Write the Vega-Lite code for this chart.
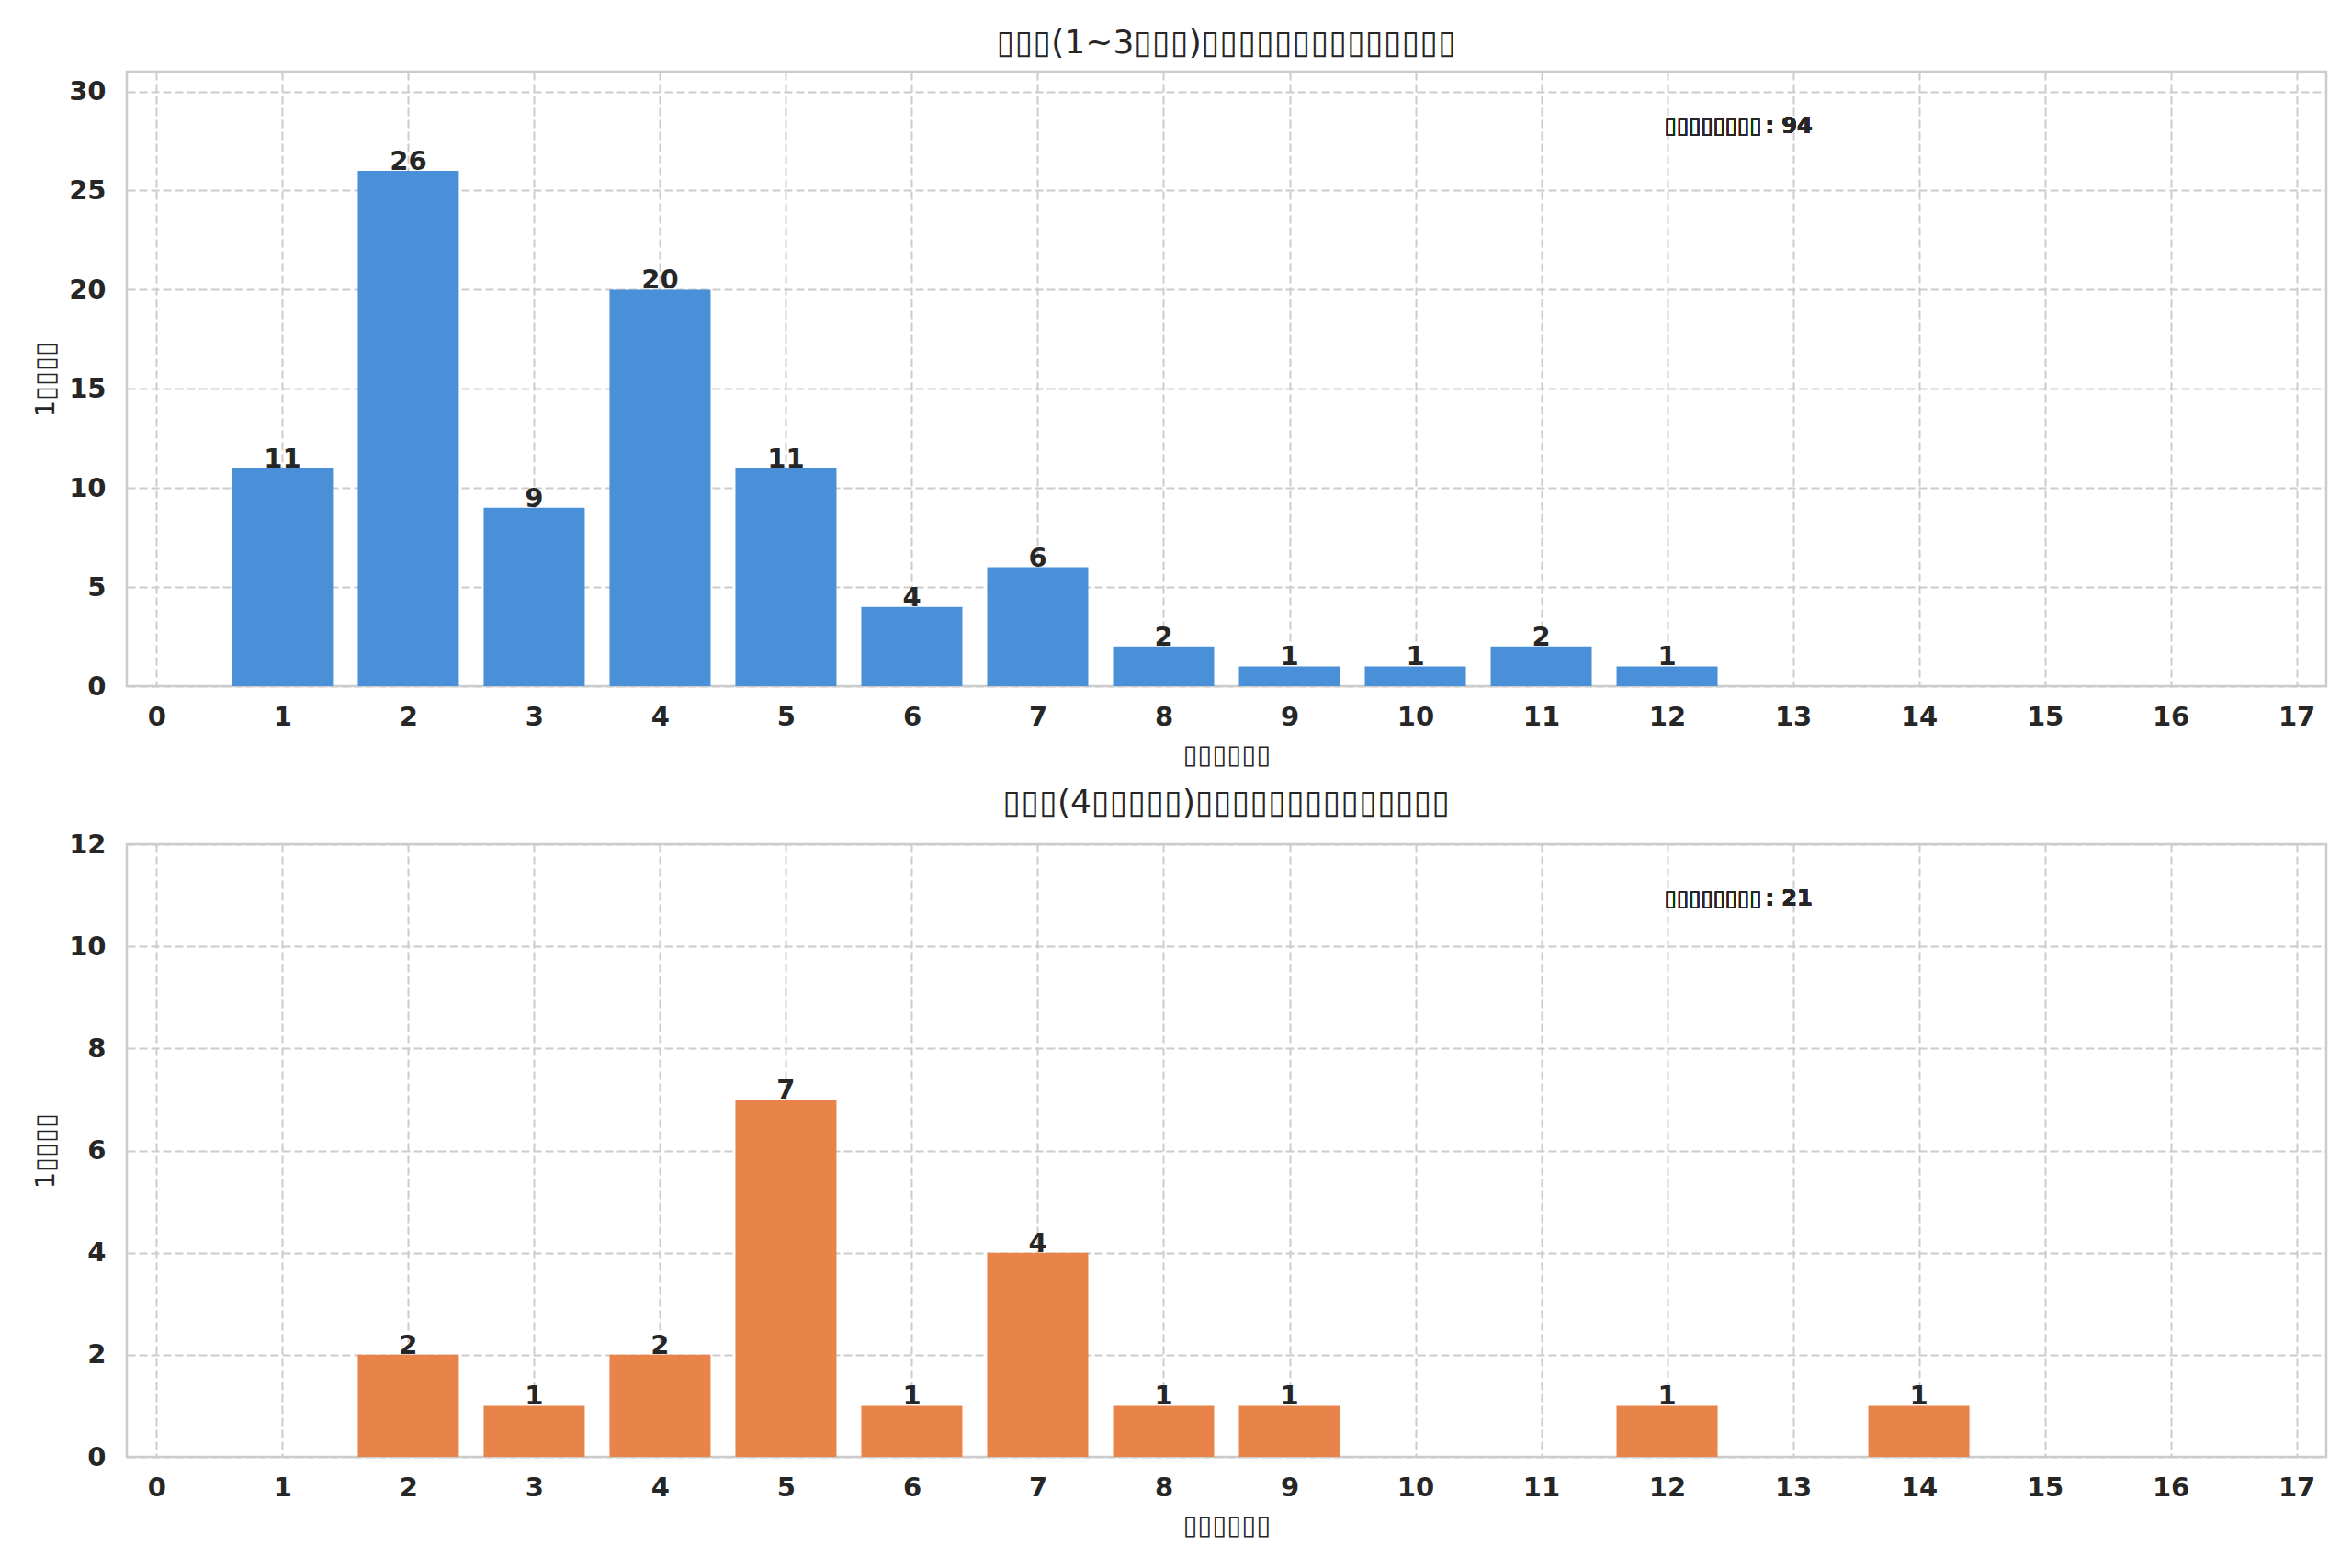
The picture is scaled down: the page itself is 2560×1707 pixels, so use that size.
{
  "$schema": "https://vega.github.io/schema/vega-lite/v6.json",
  "background": "white",
  "padding": {"left": 34, "top": 27, "right": 5, "bottom": 5},
  "spacing": 16,
  "datasets": {
    "lower": [
      {"count": 1, "n": 11}, {"count": 2, "n": 26}, {"count": 3, "n": 9},
      {"count": 4, "n": 20}, {"count": 5, "n": 11}, {"count": 6, "n": 4},
      {"count": 7, "n": 6}, {"count": 8, "n": 2}, {"count": 9, "n": 1},
      {"count": 10, "n": 1}, {"count": 11, "n": 2}, {"count": 12, "n": 1}
    ],
    "upper": [
      {"count": 2, "n": 2}, {"count": 3, "n": 1}, {"count": 4, "n": 2},
      {"count": 5, "n": 7}, {"count": 6, "n": 1}, {"count": 7, "n": 4},
      {"count": 8, "n": 1}, {"count": 9, "n": 1}, {"count": 12, "n": 1},
      {"count": 14, "n": 1}
    ]
  },
  "vconcat": [
    {
      "title": "▯▯▯(1~3▯▯▯)▯▯▯▯▯▯▯▯▯▯▯▯▯▯",
      "width": 2394,
      "height": 669,
      "data": {"name": "lower"},
      "layer": [
        {
          "mark": {"type": "bar", "width": 110, "color": "#4a90d9"},
          "encoding": {
            "x": {"field": "count", "type": "quantitative"},
            "y": {"field": "n", "type": "quantitative"}
          }
        },
        {
          "mark": {"type": "text", "baseline": "alphabetic", "dy": -1, "fontSize": 29, "fontWeight": "bold", "font": "DejaVu Sans", "color": "#262626"},
          "encoding": {
            "x": {"field": "count", "type": "quantitative"},
            "y": {"field": "n", "type": "quantitative"},
            "text": {"field": "n"}
          }
        },
        {
          "mark": {"type": "text", "align": "left", "baseline": "alphabetic", "fontSize": 24, "fontWeight": "normal", "font": "DejaVu Sans", "color": "#262626", "text": "▯▯▯▯▯▯▯▯"},
          "encoding": {
            "x": {"datum": 11.98, "type": "quantitative"},
            "y": {"datum": 27.9, "type": "quantitative"}
          }
        },
        {
          "mark": {"type": "text", "align": "left", "baseline": "alphabetic", "fontSize": 24, "fontWeight": "bold", "font": "DejaVu Sans", "color": "#262626", "text": ": 94"},
          "encoding": {
            "x": {"datum": 12.78, "type": "quantitative"},
            "y": {"datum": 27.9, "type": "quantitative"}
          }
        }
      ],
      "encoding": {
        "x": {
          "type": "quantitative",
          "scale": {"domain": [-0.2, 17.2], "nice": false, "zero": false},
          "axis": {"title": "▯▯▯▯▯▯", "values": [0,1,2,3,4,5,6,7,8,9,10,11,12,13,14,15,16,17]}
        },
        "y": {
          "type": "quantitative",
          "scale": {"domain": [0, 31], "nice": false},
          "axis": {"title": "1▯▯▯▯", "values": [0,5,10,15,20,25,30]}
        }
      }
    },
    {
      "title": "▯▯▯(4▯▯▯▯▯)▯▯▯▯▯▯▯▯▯▯▯▯▯▯",
      "width": 2394,
      "height": 667,
      "data": {"name": "upper"},
      "layer": [
        {
          "mark": {"type": "bar", "width": 110, "color": "#e8834a"},
          "encoding": {
            "x": {"field": "count", "type": "quantitative"},
            "y": {"field": "n", "type": "quantitative"}
          }
        },
        {
          "mark": {"type": "text", "baseline": "alphabetic", "dy": -1, "fontSize": 29, "fontWeight": "bold", "font": "DejaVu Sans", "color": "#262626"},
          "encoding": {
            "x": {"field": "count", "type": "quantitative"},
            "y": {"field": "n", "type": "quantitative"},
            "text": {"field": "n"}
          }
        },
        {
          "mark": {"type": "text", "align": "left", "baseline": "alphabetic", "fontSize": 24, "fontWeight": "normal", "font": "DejaVu Sans", "color": "#262626", "text": "▯▯▯▯▯▯▯▯"},
          "encoding": {
            "x": {"datum": 11.98, "type": "quantitative"},
            "y": {"datum": 10.8, "type": "quantitative"}
          }
        },
        {
          "mark": {"type": "text", "align": "left", "baseline": "alphabetic", "fontSize": 24, "fontWeight": "bold", "font": "DejaVu Sans", "color": "#262626", "text": ": 21"},
          "encoding": {
            "x": {"datum": 12.78, "type": "quantitative"},
            "y": {"datum": 10.8, "type": "quantitative"}
          }
        }
      ],
      "encoding": {
        "x": {
          "type": "quantitative",
          "scale": {"domain": [-0.2, 17.2], "nice": false, "zero": false},
          "axis": {"title": "▯▯▯▯▯▯", "values": [0,1,2,3,4,5,6,7,8,9,10,11,12,13,14,15,16,17]}
        },
        "y": {
          "type": "quantitative",
          "scale": {"domain": [0, 12], "nice": false},
          "axis": {"title": "1▯▯▯▯", "values": [0,2,4,6,8,10,12]}
        }
      }
    }
  ],
  "config": {
    "font": "DejaVu Sans",
    "view": {"stroke": "#cccccc", "strokeWidth": 2.5},
    "title": {"font": "DejaVu Sans", "fontSize": 36, "fontWeight": "normal", "color": "#262626", "baseline": "alphabetic", "offset": 12},
    "axis": {
      "grid": true,
      "gridColor": "#cccccc",
      "gridDash": [9, 4],
      "gridWidth": 2,
      "domain": false,
      "ticks": false,
      "labelFont": "DejaVu Sans",
      "labelFontSize": 29,
      "labelFontWeight": "bold",
      "labelColor": "#262626",
      "titleFont": "DejaVu Sans",
      "titleFontSize": 29,
      "titleFontWeight": "normal",
      "titleColor": "#262626"
    },
    "axisX": {"labelPadding": 19, "titlePadding": 12},
    "axisY": {"labelPadding": 23, "titlePadding": 10}
  }
}
